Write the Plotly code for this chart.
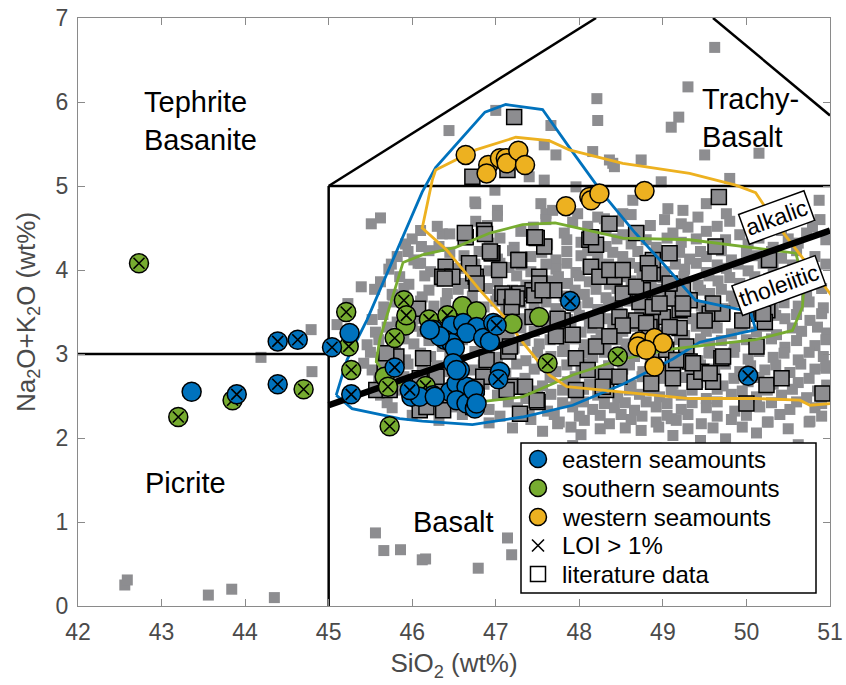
import plotly.graph_objects as go

# ---------------- sample data (SiO2, Na2O+K2O) ----------------
east_x = [45.25, 43.36, 46.25, 46.47, 46.61, 46.77, 46.65, 46.85, 46.97, 46.39, 46.47, 46.51,
          46.93, 46.33, 46.21, 45.99, 46.25, 46.45, 46.53, 46.65, 46.53, 46.65, 46.75, 46.75,
          46.57, 46.49, 47.05, 46.73, 46.77, 46.53, 46.09, 46.27]
east_y = [3.25, 2.55, 3.29, 3.34, 3.37, 3.32, 3.25, 3.19, 3.37, 3.17, 3.13, 3.07,
          3.15, 3.21, 3.29, 2.49, 2.51, 2.55, 2.65, 2.61, 2.45, 2.41, 2.55, 2.35,
          2.81, 2.89, 2.79, 2.57, 2.41, 2.81, 2.49, 2.49]
east_loi_x = [44.39, 44.63, 45.04, 45.27, 43.90, 44.39, 47.01, 45.79, 45.97, 47.03, 47.89, 50.02]
east_loi_y = [3.15, 3.17, 3.08, 2.52, 2.52, 2.64, 3.34, 2.84, 2.57, 2.70, 3.63, 2.74]

south_x = [45.92, 46.60, 46.77, 47.20, 47.52, 45.67]
south_y = [3.34, 3.57, 3.51, 3.36, 3.44, 2.73]
south_loi_x = [42.73, 45.21, 45.24, 45.27, 43.85, 43.20, 44.70, 45.90, 45.93, 45.79,
               46.20, 46.42, 45.71, 46.16, 45.73, 47.62, 48.46]
south_loi_y = [4.08, 3.50, 3.09, 2.81, 2.45, 2.25, 2.58, 3.64, 3.46, 3.19,
               3.41, 3.46, 2.61, 2.62, 2.14, 2.89, 2.97]

west_x = [46.64, 46.91, 46.89, 47.05, 47.12, 47.13, 47.27, 47.35, 47.84, 48.12, 48.14,
          48.24, 48.78, 48.72, 48.90, 49.00, 48.70, 48.90, 48.80]
west_y = [5.37, 5.25, 5.15, 5.33, 5.33, 5.27, 5.42, 5.25, 4.76, 4.87, 4.83,
          4.91, 4.94, 3.15, 3.19, 3.13, 3.09, 2.85, 3.05]

# ---------------- literature data (SiO2, Na2O+K2O) ----------------
lit_outliers = [
    (49.62, 6.65), (49.30, 6.18), (48.21, 6.04), (48.22, 5.78), (49.19, 5.82), (49.10, 5.70),
    (46.44, 5.66), (47.00, 5.90), (47.66, 5.72), (47.72, 5.37), (48.16, 5.41), (48.40, 5.27),
    (48.74, 5.31), (49.50, 5.37), (50.15, 5.39), (49.80, 5.09), (48.98, 5.05), (47.96, 4.99),
    (47.58, 5.07), (50.87, 4.83), (49.52, 4.79), (49.24, 4.71), (49.76, 4.67), (49.06, 4.73),
    (46.76, 4.79), (47.02, 4.71), (47.54, 4.79), (50.79, 4.51), (50.95, 4.36), (46.36, 4.43),
    (50.75, 3.92), (47.58, 5.49), (48.36, 5.31), (48.42, 5.23), (47.40, 5.11), (46.73, 5.07),
    (46.99, 4.95), (46.75, 4.81), (47.60, 4.67), (47.68, 4.71), (47.98, 4.67), (48.52, 4.67),
    (48.64, 4.83), (48.30, 4.61),
    (45.51, 4.55), (45.39, 3.80), (44.79, 3.29), (45.77, 3.70), (45.23, 3.60), (46.11, 4.28),
    (46.07, 4.08), (44.19, 2.96), (44.80, 2.79), (45.10, 3.35), (45.42, 2.89),
    (45.56, 0.87), (45.66, 0.66), (45.86, 0.67), (46.12, 0.55), (42.56, 0.25), (42.59, 0.31),
    (43.56, 0.13), (43.84, 0.20), (44.35, 0.10), (47.14, 0.81), (47.19, 0.61), (46.79, 0.45),
    (46.16, 0.56), (47.74, 2.17), (49.10, 2.23), (49.45, 1.97), (49.75, 1.99), (50.25, 2.19),
    (50.75, 2.19), (50.95, 2.83),
]

lit_cloud_a = [
    (45.62, 4.62), (46.76, 4.58), (47.02, 4.64), (47.60, 4.60), (47.92, 4.57), (48.22, 4.63),
    (48.47, 4.58), (48.62, 4.66), (49.02, 4.60), (49.22, 4.55), (49.42, 4.63), (49.80, 4.58),
    (50.10, 4.62), (50.88, 4.60),
    (46.10, 4.47), (46.45, 4.43), (47.30, 4.46), (47.82, 4.44), (48.32, 4.48), (48.52, 4.42),
    (48.72, 4.47), (49.12, 4.44), (49.52, 4.46), (49.92, 4.42), (50.42, 4.47), (50.72, 4.44),
    (45.92, 4.31), (46.32, 4.28), (46.92, 4.32), (47.22, 4.27), (47.62, 4.30), (48.02, 4.33),
    (48.32, 4.28), (48.62, 4.31), (48.92, 4.27), (49.22, 4.33), (49.62, 4.29), (50.02, 4.31),
    (50.32, 4.27), (50.62, 4.32),
    (45.82, 4.16), (46.02, 4.12), (46.62, 4.17), (47.02, 4.13), (47.42, 4.16), (47.72, 4.12),
    (48.02, 4.17), (48.22, 4.14), (48.52, 4.16), (48.82, 4.12), (49.02, 4.17), (49.32, 4.13),
    (49.52, 4.16), (49.82, 4.12), (50.12, 4.17), (50.42, 4.14), (50.82, 4.16),
    (45.72, 4.01), (46.22, 3.98), (46.56, 4.02), (46.92, 3.99), (47.16, 4.03), (47.42, 3.98),
    (47.72, 4.01), (47.96, 3.97), (48.22, 4.02), (48.46, 3.99), (48.72, 4.03), (49.02, 3.98),
    (49.26, 4.01), (49.52, 3.97), (49.76, 4.02), (50.02, 3.99), (50.32, 4.02),
    (45.62, 3.86), (45.96, 3.83), (46.32, 3.87), (46.62, 3.84), (47.02, 3.86), (47.36, 3.82),
    (47.62, 3.87), (47.86, 3.84), (48.12, 3.86), (48.36, 3.83), (48.62, 3.87), (48.86, 3.84),
    (49.12, 3.86), (49.42, 3.82), (49.66, 3.87), (49.92, 3.84), (50.22, 3.86), (50.52, 3.83),
    (45.76, 3.71), (46.12, 3.68), (46.42, 3.72), (46.72, 3.69), (47.02, 3.71), (47.32, 3.68),
    (47.56, 3.72), (47.82, 3.69), (48.06, 3.71), (48.32, 3.67), (48.56, 3.72), (48.82, 3.69),
    (49.06, 3.71), (49.32, 3.68), (49.56, 3.72), (49.82, 3.69), (50.06, 3.71), (50.36, 3.68),
    (50.72, 3.70),
    (45.66, 3.56), (45.96, 3.53), (46.26, 3.57), (46.56, 3.54), (46.86, 3.56), (47.12, 3.52),
    (47.46, 3.57), (47.72, 3.54), (47.96, 3.56), (48.22, 3.53), (48.46, 3.57), (48.72, 3.54),
    (48.96, 3.56), (49.22, 3.52), (49.46, 3.57), (49.72, 3.54), (50.02, 3.56), (50.32, 3.53),
    (50.62, 3.57), (50.92, 3.55),
    (45.52, 3.41), (45.82, 3.38), (46.06, 3.42), (46.36, 3.39), (46.66, 3.41), (46.96, 3.37),
    (47.32, 3.42), (47.62, 3.39), (47.86, 3.41), (48.12, 3.38), (48.36, 3.42), (48.62, 3.39),
    (48.86, 3.41), (49.12, 3.37), (49.36, 3.42), (49.62, 3.39), (49.92, 3.41), (50.22, 3.38),
    (50.46, 3.42), (50.76, 3.40),
    (45.56, 3.26), (45.86, 3.23), (46.12, 3.27), (46.46, 3.24), (46.82, 3.26), (47.16, 3.22),
    (47.46, 3.27), (47.76, 3.24), (48.02, 3.26), (48.26, 3.23), (48.52, 3.27), (48.76, 3.24),
    (49.02, 3.26), (49.26, 3.22), (49.52, 3.27), (49.82, 3.24), (50.12, 3.26), (50.36, 3.23),
    (50.66, 3.27), (50.96, 3.25),
    (45.46, 3.11), (45.76, 3.08), (46.02, 3.12), (46.36, 3.09), (46.92, 3.11), (47.22, 3.07),
    (47.52, 3.12), (47.82, 3.09), (48.06, 3.11), (48.32, 3.08), (48.56, 3.12), (48.82, 3.09),
    (49.06, 3.11), (49.32, 3.07), (49.56, 3.12), (49.86, 3.09), (50.16, 3.11), (50.46, 3.08),
    (50.82, 3.10),
    (45.62, 2.96), (45.92, 2.93), (46.22, 2.97), (46.56, 2.94), (47.02, 2.96), (47.36, 2.92),
    (47.66, 2.97), (47.92, 2.94), (48.16, 2.96), (48.42, 2.93), (48.66, 2.97), (48.92, 2.94),
    (49.16, 2.96), (49.42, 2.92), (49.72, 2.97), (50.02, 2.94), (50.32, 2.96), (50.62, 2.93),
    (50.92, 2.97),
    (45.52, 2.81), (45.82, 2.78), (46.12, 2.82), (46.42, 2.79), (46.72, 2.81), (47.12, 2.77),
    (47.46, 2.82), (47.72, 2.79), (48.02, 2.81), (48.26, 2.78), (48.52, 2.82), (48.76, 2.79),
    (49.02, 2.81), (49.32, 2.77), (49.62, 2.82), (49.92, 2.79), (50.22, 2.81), (50.52, 2.78),
    (50.82, 2.82),
    (45.72, 2.66), (46.02, 2.63), (46.32, 2.67), (46.86, 2.64), (47.22, 2.66), (47.56, 2.62),
    (47.86, 2.67), (48.12, 2.64), (48.36, 2.66), (48.62, 2.63), (48.86, 2.67), (49.12, 2.64),
    (49.42, 2.66), (49.72, 2.62), (50.02, 2.67), (50.32, 2.64), (50.62, 2.66), (50.96, 2.63),
    (45.62, 2.51), (45.96, 2.48), (46.26, 2.52), (46.62, 2.49), (47.02, 2.51), (47.36, 2.47),
    (47.66, 2.52), (47.96, 2.49), (48.22, 2.51), (48.46, 2.48), (48.72, 2.52), (48.96, 2.49),
    (49.22, 2.51), (49.52, 2.47), (49.82, 2.52), (50.12, 2.49), (50.42, 2.51), (50.72, 2.48),
    (45.76, 2.36), (46.12, 2.33), (46.52, 2.37), (46.92, 2.34), (47.26, 2.36), (47.62, 2.32),
    (47.92, 2.37), (48.16, 2.34), (48.42, 2.36), (48.66, 2.33), (48.92, 2.37), (49.22, 2.34),
    (49.52, 2.36), (49.86, 2.32), (50.16, 2.37), (50.52, 2.34), (50.82, 2.36),
    (46.32, 2.21), (46.92, 2.18), (47.42, 2.22), (47.76, 2.19), (48.06, 2.21), (48.36, 2.17),
    (48.62, 2.22), (48.92, 2.19), (49.16, 2.21), (49.46, 2.17), (49.82, 2.22), (50.26, 2.19),
    (50.76, 2.20),
    (47.56, 2.08), (48.02, 2.04), (48.74, 2.09), (49.12, 2.03), (50.12, 2.06),
    (47.92, 1.91), (48.92, 1.88), (50.62, 1.92),
]

lit_cloud_b = [
    (46.30, 4.52), (46.90, 4.53), (47.45, 4.51), (48.10, 4.52), (48.85, 4.53), (49.30, 4.51),
    (49.65, 4.52), (50.25, 4.53),
    (46.00, 4.37), (46.65, 4.36), (47.05, 4.38), (47.45, 4.37), (47.85, 4.36), (48.15, 4.38),
    (48.45, 4.37), (48.80, 4.36), (49.05, 4.38), (49.40, 4.37), (49.75, 4.36), (50.15, 4.38),
    (50.50, 4.37),
    (45.95, 4.22), (46.20, 4.23), (46.45, 4.21), (46.80, 4.22), (47.20, 4.23), (47.55, 4.21),
    (47.85, 4.22), (48.10, 4.23), (48.40, 4.21), (48.70, 4.22), (48.95, 4.23), (49.20, 4.21),
    (49.45, 4.22), (49.70, 4.23), (50.00, 4.21), (50.30, 4.22), (50.60, 4.23),
    (45.75, 4.07), (46.10, 4.08), (46.40, 4.06), (46.75, 4.07), (47.05, 4.08), (47.30, 4.06),
    (47.60, 4.07), (47.85, 4.08), (48.10, 4.06), (48.35, 4.07), (48.60, 4.08), (48.85, 4.06),
    (49.15, 4.07), (49.40, 4.08), (49.65, 4.06), (49.90, 4.07), (50.20, 4.08), (50.55, 4.06),
    (50.95, 4.07),
    (45.85, 3.92), (46.15, 3.93), (46.45, 3.91), (46.80, 3.92), (47.25, 3.93), (47.50, 3.91),
    (47.75, 3.92), (48.00, 3.93), (48.25, 3.91), (48.50, 3.92), (48.75, 3.93), (49.00, 3.91),
    (49.25, 3.92), (49.55, 3.93), (49.80, 3.91), (50.10, 3.92), (50.40, 3.93), (50.70, 3.91),
    (45.55, 3.77), (45.90, 3.78), (46.20, 3.76), (46.55, 3.77), (46.90, 3.78), (47.20, 3.76),
    (47.45, 3.77), (47.70, 3.78), (47.95, 3.76), (48.20, 3.77), (48.45, 3.78), (48.70, 3.76),
    (48.95, 3.77), (49.20, 3.78), (49.45, 3.76), (49.70, 3.77), (49.95, 3.78), (50.25, 3.76),
    (50.55, 3.77), (50.90, 3.78),
    (45.80, 3.62), (46.10, 3.63), (46.40, 3.61), (46.70, 3.62), (47.00, 3.63), (47.30, 3.61),
    (47.60, 3.62), (47.85, 3.63), (48.10, 3.61), (48.35, 3.62), (48.60, 3.63), (48.85, 3.61),
    (49.10, 3.62), (49.35, 3.63), (49.60, 3.61), (49.85, 3.62), (50.15, 3.63), (50.45, 3.61),
    (50.75, 3.62),
    (45.65, 3.47), (45.95, 3.48), (46.20, 3.46), (46.50, 3.47), (46.80, 3.48), (47.15, 3.46),
    (47.45, 3.47), (47.75, 3.48), (48.00, 3.46), (48.25, 3.47), (48.50, 3.48), (48.75, 3.46),
    (49.00, 3.47), (49.25, 3.48), (49.50, 3.46), (49.75, 3.47), (50.05, 3.48), (50.35, 3.46),
    (50.60, 3.47), (50.90, 3.48),
    (45.70, 3.32), (46.00, 3.33), (46.25, 3.31), (46.55, 3.32), (46.90, 3.33), (47.30, 3.31),
    (47.60, 3.32), (47.90, 3.33), (48.15, 3.31), (48.40, 3.32), (48.65, 3.33), (48.90, 3.31),
    (49.15, 3.32), (49.40, 3.33), (49.65, 3.31), (49.95, 3.32), (50.25, 3.33), (50.55, 3.31),
    (50.85, 3.32),
    (45.60, 3.17), (45.90, 3.18), (46.20, 3.16), (46.60, 3.17), (47.05, 3.18), (47.35, 3.16),
    (47.65, 3.17), (47.95, 3.18), (48.20, 3.16), (48.45, 3.17), (48.70, 3.18), (48.95, 3.16),
    (49.20, 3.17), (49.45, 3.18), (49.70, 3.16), (50.00, 3.17), (50.30, 3.18), (50.60, 3.16),
    (50.95, 3.17),
    (45.50, 3.02), (45.80, 3.03), (46.10, 3.01), (46.45, 3.02), (46.75, 3.03), (47.15, 3.01),
    (47.50, 3.02), (47.80, 3.03), (48.05, 3.01), (48.30, 3.02), (48.55, 3.03), (48.80, 3.01),
    (49.05, 3.02), (49.30, 3.03), (49.55, 3.01), (49.85, 3.02), (50.15, 3.03), (50.45, 3.01),
    (50.75, 3.02),
    (45.65, 2.87), (45.95, 2.88), (46.30, 2.86), (46.85, 2.87), (47.25, 2.88), (47.55, 2.86),
    (47.85, 2.87), (48.10, 2.88), (48.35, 2.86), (48.60, 2.87), (48.85, 2.88), (49.10, 2.86),
    (49.45, 2.87), (49.75, 2.88), (50.05, 2.86), (50.35, 2.87), (50.65, 2.88), (50.95, 2.86),
    (45.60, 2.72), (45.90, 2.73), (46.20, 2.71), (46.55, 2.72), (47.00, 2.73), (47.35, 2.71),
    (47.65, 2.72), (47.95, 2.73), (48.25, 2.71), (48.50, 2.72), (48.75, 2.73), (49.00, 2.71),
    (49.25, 2.72), (49.55, 2.73), (49.85, 2.71), (50.15, 2.72), (50.45, 2.73), (50.75, 2.71),
    (45.80, 2.57), (46.10, 2.58), (46.45, 2.56), (46.80, 2.57), (47.15, 2.58), (47.50, 2.56),
    (47.80, 2.57), (48.05, 2.58), (48.30, 2.56), (48.60, 2.57), (48.85, 2.58), (49.10, 2.56),
    (49.35, 2.57), (49.65, 2.58), (49.95, 2.56), (50.25, 2.57), (50.55, 2.58), (50.85, 2.56),
    (45.70, 2.42), (46.05, 2.43), (46.40, 2.41), (46.80, 2.42), (47.15, 2.43), (47.50, 2.41),
    (47.80, 2.42), (48.05, 2.43), (48.30, 2.41), (48.55, 2.42), (48.80, 2.43), (49.05, 2.41),
    (49.35, 2.42), (49.65, 2.43), (50.00, 2.41), (50.30, 2.42), (50.60, 2.43), (50.90, 2.41),
    (46.00, 2.27), (46.60, 2.28), (47.05, 2.26), (47.40, 2.27), (47.70, 2.28), (48.00, 2.26),
    (48.25, 2.27), (48.50, 2.28), (48.75, 2.26), (49.05, 2.27), (49.30, 2.28), (49.65, 2.26),
    (50.00, 2.27), (50.40, 2.28), (50.90, 2.26),
    (47.20, 2.12), (47.90, 2.13), (48.25, 2.11), (48.55, 2.12), (48.95, 2.13), (49.30, 2.11),
    (49.60, 2.12), (49.95, 2.13), (50.50, 2.11),
]

lit_boxed = [
    (47.22, 5.82), (46.72, 5.11), (47.14, 5.19), (49.67, 4.87), (48.36, 4.55), (47.46, 4.39),
    (47.58, 4.28), (46.64, 4.39), (46.86, 4.47), (48.12, 4.36), (48.20, 4.30), (48.68, 4.44),
    (49.08, 4.20), (49.63, 4.28), (50.27, 4.12), (46.96, 4.20), (47.28, 4.12), (47.04, 4.00),
    (46.40, 4.04), (46.68, 4.08), (46.36, 3.92), (46.76, 3.92), (47.52, 3.92), (48.14, 4.04),
    (48.24, 3.92), (48.42, 3.92), (48.88, 3.96), (48.88, 4.12), (47.08, 3.72), (47.28, 3.72),
    (47.44, 3.76), (47.70, 3.76), (48.52, 3.72), (48.76, 3.76), (49.12, 3.80), (49.32, 3.64),
    (49.56, 3.48), (49.71, 3.48), (49.95, 3.40), (50.15, 3.48), (49.20, 3.52), (49.00, 3.44),
    (48.68, 3.40), (48.48, 3.44), (47.80, 3.40), (48.20, 3.40), (46.48, 3.92), (50.25, 3.52),
    (46.87, 4.43), (47.49, 4.38), (46.95, 4.20), (46.73, 3.96), (46.39, 3.90), (46.77, 3.84),
    (47.11, 3.68), (47.25, 3.66), (47.46, 3.70), (47.19, 3.56), (46.07, 3.54),
    (47.52, 3.84), (47.20, 3.68), (47.74, 3.42), (47.92, 3.23), (47.72, 3.21), (48.20, 3.09),
    (47.96, 2.95), (48.10, 2.81), (48.32, 2.73), (48.32, 2.57), (48.72, 3.62), (48.88, 3.56),
    (49.12, 3.66), (49.24, 3.54), (48.52, 3.34), (48.86, 3.38), (49.20, 3.31), (49.28, 3.09),
    (49.12, 2.89), (49.32, 2.91), (48.86, 2.65), (49.12, 2.71), (47.50, 2.43), (47.29, 2.29),
    (47.35, 2.61), (47.17, 2.61),
    (50.18, 3.50), (50.22, 3.38), (50.12, 3.09), (49.70, 2.95), (49.60, 2.67), (49.38, 2.67),
    (49.46, 2.79), (50.24, 2.63), (50.42, 2.71), (50.91, 2.53), (50.00, 2.41), (49.50, 3.40),
    (49.04, 3.05), (48.84, 3.32), (48.36, 3.21), (49.16, 2.93), (48.96, 3.60), (49.24, 3.76),
    (49.08, 3.84), (48.68, 3.80), (48.36, 4.00), (48.82, 4.08),
    (45.81, 2.97), (46.13, 2.95), (46.09, 2.71), (46.09, 2.33), (46.37, 2.33), (46.29, 2.73),
    (46.85, 2.73), (46.89, 2.93), (47.15, 3.03), (45.57, 2.57), (45.67, 2.89), (47.13, 2.57),
    (47.27, 4.12), (46.93, 4.22), (46.63, 4.44), (47.47, 4.39), (48.14, 4.39), (48.52, 4.00),
    (48.84, 3.96), (47.56, 3.76), (49.60, 3.60), (50.20, 3.48), (48.80, 3.37), (47.17, 3.09),
    (49.36, 2.89), (49.56, 2.77), (49.72, 2.97), (48.48, 2.73), (48.28, 2.61), (47.96, 2.57),
    (47.49, 2.45), (46.77, 2.61), (46.73, 2.37), (46.17, 2.37), (45.69, 3.01), (45.73, 2.57),
    (47.44, 3.44), (49.08, 3.32), (49.24, 3.60),
]

# ---------------- diagram fields ----------------
field_x = [45, 45, None, 42, 45, None, 45, 51, None, 45, 48.2, None, 49.6, 51]
field_y = [0, 5, None, 3, 3, None, 5, 5, None, 5, 7, None, 7, 5.84]
divide_x = [45.0, 51.0]
divide_y = [2.39, 4.47]

east_field_x = [45.09, 45.22, 45.46, 46.12, 46.28, 46.87, 47.12, 47.56, 47.88, 48.28, 48.67,
                49.00, 49.39, 50.05, 50.11, 49.44, 49.12, 48.52, 47.92, 47.32, 46.72, 46.12,
                45.85, 45.28, 45.09]
east_field_y = [2.51, 2.93, 3.41, 4.93, 5.22, 5.88, 5.97, 5.91, 5.46, 4.91, 4.44,
                4.08, 3.64, 3.50, 3.29, 3.14, 2.94, 2.64, 2.39, 2.25, 2.16, 2.20,
                2.23, 2.35, 2.51]
south_field_x = [45.61, 45.89, 46.12, 46.52, 46.93, 47.32, 47.71, 48.52, 49.32, 50.11, 50.59,
                 50.69, 50.67, 50.55, 50.11, 49.12, 48.52, 47.92, 47.32, 46.81, 46.01, 45.69,
                 45.57, 45.61]
south_field_y = [3.17, 4.09, 4.18, 4.27, 4.44, 4.54, 4.56, 4.38, 4.36, 4.26, 4.20,
                 3.84, 3.56, 3.28, 3.17, 3.06, 2.94, 2.75, 2.49, 2.43, 2.54, 2.75,
                 2.91, 3.17]
west_field_x = [46.24, 46.28, 46.76, 47.24, 47.64, 47.88, 48.52, 49.32, 49.87, 50.11, 50.35,
                50.67, 51.00, 51.20, 51.20, 51.00, 50.76, 50.64, 50.11, 49.32, 48.52, 47.85,
                47.64, 47.32, 47.13, 46.81, 46.41, 46.12, 46.24]
west_field_y = [5.07, 5.19, 5.43, 5.58, 5.54, 5.43, 5.27, 5.15, 5.01, 4.92, 4.56,
                4.15, 3.72, 3.45, 2.41, 2.41, 2.39, 2.45, 2.47, 2.47, 2.55, 2.61,
                2.75, 3.14, 3.41, 3.76, 4.24, 4.50, 5.07]

legend_labels = ["eastern seamounts", "southern seamounts", "western seamounts",
                 "LOI > 1%", "literature data"]

BLUE, GREEN, YELLOW, GRAY = "#0072BD", "#77AC30", "#EDB120", "#8d8d90"
FONT = "Liberation Sans, Arial, Helvetica, sans-serif"

# plot area in pixels (for layout-only items like the legend box)
ML, MT, PW, PH = 78, 18, 752, 588


def px(xp):
    return (xp - ML) / PW


def py(yp):
    return (MT + PH - yp) / PH


fig = go.Figure()

lit_small = lit_outliers + lit_cloud_a + lit_cloud_b
fig.add_trace(go.Scatter(x=[p[0] for p in lit_small], y=[p[1] for p in lit_small], mode="markers",
                         marker=dict(symbol="square", size=11, color=GRAY, line=dict(width=0)),
                         showlegend=False, hoverinfo="skip"))
fig.add_trace(go.Scatter(x=[p[0] for p in lit_boxed], y=[p[1] for p in lit_boxed], mode="markers",
                         marker=dict(symbol="square", size=15, color=GRAY,
                                     line=dict(width=1.5, color="black")),
                         showlegend=False, hoverinfo="skip"))

fig.add_trace(go.Scatter(x=field_x, y=field_y, mode="lines",
                         line=dict(color="black", width=2.5), showlegend=False, hoverinfo="skip"))
for fx, fy, c in [(east_field_x, east_field_y, BLUE), (south_field_x, south_field_y, GREEN),
                  (west_field_x, west_field_y, YELLOW)]:
    fig.add_trace(go.Scatter(x=fx, y=fy, mode="lines", line=dict(color=c, width=2.8),
                             showlegend=False, hoverinfo="skip"))
fig.add_trace(go.Scatter(x=divide_x, y=divide_y, mode="lines",
                         line=dict(color="black", width=6.5), showlegend=False, hoverinfo="skip"))

circ = dict(symbol="circle", size=19, line=dict(width=1.5, color="black"))
xmark = dict(symbol="x-thin", size=11, color="black", line=dict(width=1.6, color="black"))

fig.add_trace(go.Scatter(x=south_x + south_loi_x, y=south_y + south_loi_y, mode="markers",
                         marker=dict(color=GREEN, **circ), showlegend=False))
fig.add_trace(go.Scatter(x=south_loi_x, y=south_loi_y, mode="markers", marker=xmark,
                         showlegend=False))
fig.add_trace(go.Scatter(x=east_x + east_loi_x, y=east_y + east_loi_y, mode="markers",
                         marker=dict(color=BLUE, **circ), showlegend=False))
fig.add_trace(go.Scatter(x=east_loi_x, y=east_loi_y, mode="markers", marker=xmark,
                         showlegend=False))
fig.add_trace(go.Scatter(x=west_x, y=west_y, mode="markers",
                         marker=dict(color=YELLOW, **circ), showlegend=False))

# ---------------- legend (layout items) ----------------
LB = dict(x0=521, x1=816, y0=443, y1=593)
row_y = [459, 488, 517, 545.5, 574]
gx, tx = 538, 560
shapes = [dict(type="rect", xref="paper", yref="paper", x0=px(LB["x0"]), x1=px(LB["x1"]),
               y0=py(LB["y1"]), y1=py(LB["y0"]), fillcolor="white",
               line=dict(color="black", width=1.5), layer="above")]
for ry, col in zip(row_y[:3], [BLUE, GREEN, YELLOW]):
    shapes.append(dict(type="circle", xref="paper", yref="paper", x0=px(gx - 8.5), x1=px(gx + 8.5),
                       y0=py(ry + 8.5), y1=py(ry - 8.5), fillcolor=col,
                       line=dict(color="black", width=1.5), layer="above"))
for sgn in (1, -1):
    shapes.append(dict(type="line", xref="paper", yref="paper", x0=px(gx - 6), x1=px(gx + 6),
                       y0=py(row_y[3] - 6 * sgn), y1=py(row_y[3] + 6 * sgn),
                       line=dict(color="black", width=1.6), layer="above"))
shapes.append(dict(type="rect", xref="paper", yref="paper", x0=px(gx - 7.5), x1=px(gx + 7.5),
                   y0=py(row_y[4] + 7.5), y1=py(row_y[4] - 7.5), fillcolor="white",
                   line=dict(color="black", width=1.5), layer="above"))

annos = [
    dict(x=42.76, y=5.77, text="Tephrite<br>Basanite", xanchor="left", yanchor="middle",
         align="left", font=dict(size=29)),
    dict(x=49.44, y=5.81, text="Trachy-<br>Basalt", xanchor="left", yanchor="middle",
         align="left", font=dict(size=29)),
    dict(x=42.78, y=1.47, text="Picrite", xanchor="left", yanchor="middle", font=dict(size=29)),
    dict(x=45.99, y=1.0, text="Basalt", xanchor="left", yanchor="middle", font=dict(size=29)),
    dict(x=50.36, y=4.63, text="alkalic", textangle=-20, font=dict(size=23),
         bgcolor="white", bordercolor="black", borderwidth=1.5, borderpad=2),
    dict(x=50.39, y=3.81, text="tholeiitic", textangle=-20, font=dict(size=23),
         bgcolor="white", bordercolor="black", borderwidth=1.5, borderpad=2),
]
for a in annos:
    a.setdefault("showarrow", False)
    a["font"] = dict(family=FONT, color="black", **a["font"])
    fig.add_annotation(**a)
for ry, lab in zip(row_y, legend_labels):
    fig.add_annotation(x=px(tx), y=py(ry), xref="paper", yref="paper", text=lab,
                       xanchor="left", yanchor="middle", showarrow=False,
                       font=dict(family=FONT, size=24, color="black"))

axis_common = dict(showline=True, linecolor="#8a8a8a", linewidth=1, mirror="ticks",
                   ticks="inside", ticklen=7, tickcolor="#8a8a8a", tickwidth=1,
                   showgrid=False, zeroline=False, dtick=1,
                   tickfont=dict(family=FONT, size=23, color="#4a4a4a"))

fig.update_layout(
    width=846, height=685,
    margin=dict(l=ML, r=846 - ML - PW, t=MT, b=685 - MT - PH, autoexpand=False),
    paper_bgcolor="white", plot_bgcolor="white",
    font=dict(family=FONT),
    showlegend=False,
    shapes=shapes,
    xaxis=dict(range=[42, 51], title=dict(text="SiO<sub>2</sub> (wt%)", standoff=10,
                                          font=dict(family=FONT, size=26, color="#4a4a4a")),
               ticklabelstandoff=5, **axis_common),
    yaxis=dict(range=[0, 7], title=dict(text="Na<sub>2</sub>O+K<sub>2</sub>O (wt%)", standoff=12,
                                        font=dict(family=FONT, size=26, color="#4a4a4a")),
               ticklabelstandoff=4, **axis_common),
)

fig.write_html("out.html", config={"displayModeBar": False},
               post_script="document.body.style.margin='0px';")
